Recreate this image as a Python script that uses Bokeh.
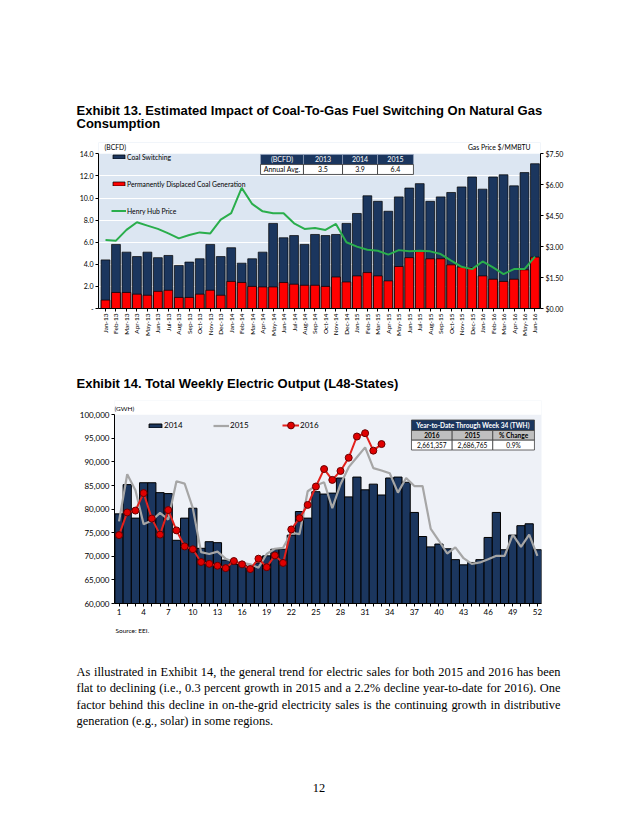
import math
from bokeh.plotting import figure
from bokeh.models import (Range1d, LinearAxis, FixedTicker, Legend, LegendItem, BoxAnnotation,
                          ColumnDataSource, Label, NumeralTickFormatter, CustomJSTickFormatter)
from bokeh.layouts import column
from bokeh.embed import file_html
from bokeh.resources import INLINE
from bokeh.core.properties import value

# ---------------- data: Exhibit 13 ----------------
months = ["Jan-13", "Feb-13", "Mar-13", "Apr-13", "May-13", "Jun-13", "Jul-13", "Aug-13",
          "Sep-13", "Oct-13", "Nov-13", "Dec-13", "Jan-14", "Feb-14", "Mar-14", "Apr-14",
          "May-14", "Jun-14", "Jul-14", "Aug-14", "Sep-14", "Oct-14", "Nov-14", "Dec-14",
          "Jan-15", "Feb-15", "Mar-15", "Apr-15", "May-15", "Jun-15", "Jul-15", "Aug-15",
          "Sep-15", "Oct-15", "Nov-15", "Dec-15", "Jan-16", "Feb-16", "Mar-16", "Apr-16",
          "May-16", "Jun-16"]
coal_switching_total = [4.4, 5.8, 5.1, 4.7, 5.1, 4.6, 4.8, 3.9, 4.2, 4.5, 5.8, 4.7,
                        5.5, 4.1, 4.5, 5.1, 7.7, 6.4, 6.6, 5.8, 6.7, 6.6, 6.7, 7.7,
                        8.6, 10.2, 9.7, 8.8, 10.1, 10.9, 11.3, 9.7, 10.1, 10.5, 11.0, 11.9,
                        10.8, 11.9, 12.1, 11.1, 12.3, 13.1]
displaced_coal = [0.76, 1.45, 1.45, 1.3, 1.2, 1.55, 1.65, 1.0, 1.0, 1.3, 1.65, 1.2,
                  2.45, 2.35, 2.0, 1.95, 1.95, 2.35, 2.2, 2.1, 2.1, 2.0, 2.85, 2.4,
                  2.95, 3.25, 2.95, 2.5, 3.8, 4.6, 5.15, 4.5, 4.5, 3.95, 3.75, 3.7,
                  2.95, 2.65, 2.45, 2.65, 3.5, 4.65]
henry_hub = [3.32, 3.29, 3.81, 4.18, 4.02, 3.86, 3.64, 3.40, 3.56, 3.69, 3.64, 4.31,
             4.62, 5.85, 5.07, 4.71, 4.62, 4.62, 4.13, 3.86, 3.90, 3.81, 4.10, 3.21,
             3.00, 2.85, 2.80, 2.61, 2.83, 2.77, 2.80, 2.77, 2.64, 2.32, 2.02, 1.91,
             2.28, 1.99, 1.67, 1.91, 1.91, 2.51]
table_years = ["2013", "2014", "2015"]
annual_avg = [3.5, 3.9, 6.4]

# ---------------- data: Exhibit 14 ----------------
weeks = list(range(1, 53))
output_2014 = [79000, 85200, 78100, 85600, 85600, 83500, 83300, 73400, 78100, 80200,
               71700, 73100, 72900, 69200, 68300, 68200, 67900, 68600, 70100, 71500,
               71500, 74500, 79500, 78100, 83700, 83200, 83400, 86600, 82600, 86800,
               84100, 85300, 83000, 86600, 86800, 85700, 79300, 74200, 72000, 72600,
               71600, 69300, 68200, 68700, 69300, 74000, 79300, 71400, 74500, 76500,
               76900, 71400]
output_2015 = [77400, 87400, 84000, 76800, 77600, 79200, 77800, 85900, 85400, 80200,
               70900, 70500, 71000, 69500, 68800, 68600, 68300, 67600, 70500, 71600,
               71800, 75000, 74700, 83800, 85000, 85700, 80200, 85300, 88900, 91000,
               93100, 88700, 88200, 87600, 83500, 86600, 84900, 84900, 75800, 73300,
               70600, 71900, 69600, 68400, 68700, 69400, 70100, 70100, 74600, 72000,
               74600, 70100]
output_2016 = [74500, 79300, 79700, 83400, 78000, 74600, 79800, 75500, 72100, 71500,
               68800, 68400, 68000, 67500, 69000, 68300, 67300, 69500, 67700, 70200,
               68600, 75700, 78100, 80900, 84800, 88500, 86200, 88100, 90900, 95400,
               96100, 92400, 93800]
ytd_title = "Year-to-Date Through Week 34 (TWH)"
ytd_headers = ["2016", "2015", "% Change"]
ytd_values = ["2,661,357", "2,686,765", "0.9%"]

title13 = ["Exhibit 13.  Estimated Impact of Coal-To-Gas Fuel Switching On Natural Gas",
           "Consumption"]
title14 = "Exhibit 14.  Total Weekly Electric Output (L48-States)"
source_note = "Source:  EEI."
paragraph = [
    "As illustrated in Exhibit 14, the general trend for electric sales for both 2015 and 2016 has been",
    "flat to declining (i.e., 0.3 percent growth in 2015 and a 2.2% decline year-to-date for 2016). One",
    "factor behind this decline in on-the-grid electricity sales is the continuing growth in distributive",
    "generation (e.g., solar) in some regions.",
]
page_number = "12"

# ---------------- styles ----------------
NAVY = "#1b365e"
RED = "#ff0000"
GREEN = "#2aae4c"
CF = "Lato"
TITLE_FONT = "Liberation Sans"
BODY_FONT = "Liberation Serif"
W = 630

# Times metrics (1/1000 em) used to justify the paragraph lines
TIMES = {" ": 250, "(": 333, ")": 333, ",": 250, ".": 250, "-": 333, "%": 833, ":": 278,
         "A": 722, "E": 611, "O": 722, "S": 556, "I": 333,
         "a": 444, "b": 500, "c": 444, "d": 500, "e": 444, "f": 333, "g": 500, "h": 500,
         "i": 278, "j": 278, "k": 500, "l": 278, "m": 778, "n": 500, "o": 500, "p": 500,
         "q": 500, "r": 333, "s": 389, "t": 278, "u": 500, "v": 500, "w": 722, "x": 500,
         "y": 500, "z": 444}


def text_width(s, size):
    return sum(TIMES.get(c, 500) for c in s) * size / 1000.0


def text_fig(top, height):
    f = figure(width=W, height=height, x_range=Range1d(0, W), y_range=Range1d(top + height, top),
               x_axis_location=None, y_axis_location=None, toolbar_location=None,
               output_backend="svg", min_border=0)
    f.grid.visible = False
    f.outline_line_color = None
    return f


def style_axis(ax, size):
    ax.axis_line_color = "black"
    ax.major_tick_line_color = "black"
    ax.major_tick_out = 3
    ax.major_tick_in = 0
    ax.minor_tick_line_color = None
    ax.major_label_text_font = CF
    ax.major_label_text_font_size = size
    ax.major_label_text_color = "black"
    ax.major_label_standoff = 2


# ---------------- title 13 ----------------
t1 = text_fig(0, 140)
t1.text(x=[76, 76], y=[109.5, 122.5], text=title13, text_font=value(TITLE_FONT),
        text_font_style="bold", text_font_size="13px", text_baseline="alphabetic", text_color="black")

# ---------------- Exhibit 13 chart ----------------
Y1_TOP = 14 * 166 / 154.7
p1 = figure(width=W, height=205, x_range=Range1d(-0.67, 41.53), y_range=Range1d(0, Y1_TOP),
            toolbar_location=None, output_backend="svg",
            min_border_left=98, min_border_right=90, min_border_top=2, min_border_bottom=37,
            background_fill_color="#dce6f2")
p1.outline_line_color = None
p1.extra_y_ranges = {"price": Range1d(0, Y1_TOP * 7.5 / 14)}
p1.add_layout(BoxAnnotation(bottom=14, fill_color="white", fill_alpha=1, line_alpha=0,
                            level="underlay"))
src1 = ColumnDataSource(dict(x=list(range(len(months))), total=coal_switching_total,
                             red=displaced_coal, hh=henry_hub))
r_navy = p1.vbar(x="x", top="total", width=0.84, fill_color=NAVY, line_color="black",
                 line_width=0.7, source=src1)
r_red = p1.vbar(x="x", top="red", width=0.84, fill_color=RED, line_color="black",
                line_width=0.7, source=src1)
r_green = p1.line(x="x", y="hh", y_range_name="price", line_color=GREEN, line_width=2, source=src1)

p1.xgrid.visible = False
p1.ygrid.ticker = FixedTicker(ticks=[2, 4, 6, 8, 10, 12])
p1.ygrid.grid_line_color = "white"
p1.ygrid.grid_line_width = 1

p1.xaxis.ticker = FixedTicker(ticks=list(range(len(months))))
p1.xaxis.major_label_overrides = {i: m for i, m in enumerate(months)}
p1.xaxis.major_label_orientation = math.pi / 2
style_axis(p1.xaxis[0], "6.5px")
p1.yaxis.ticker = FixedTicker(ticks=[0, 2, 4, 6, 8, 10, 12, 14])
p1.yaxis.formatter = CustomJSTickFormatter(code="return tick == 0 ? '-' : tick.toFixed(1)")
p1.yaxis.bounds = (0, 14)
style_axis(p1.yaxis[0], "7px")
ax_r = LinearAxis(y_range_name="price", ticker=FixedTicker(ticks=[0, 1.5, 3, 4.5, 6, 7.5]),
                  formatter=NumeralTickFormatter(format="$0.00"), bounds=(0, 7.5))
style_axis(ax_r, "7px")
p1.add_layout(ax_r, "right")

leg1 = Legend(items=[LegendItem(label="Coal Switching", renderers=[r_navy]),
                     LegendItem(label="Permanently Displaced Coal Generation", renderers=[r_red]),
                     LegendItem(label="Henry Hub Price", renderers=[r_green])],
              location=(13, 93), orientation="vertical", glyph_width=15, glyph_height=5,
              label_height=9, label_text_font=CF, label_text_font_size="6.8px",
              label_text_color="black", spacing=18, padding=0, margin=0,
              background_fill_alpha=0, border_line_color=None, label_standoff=1)
p1.add_layout(leg1)

p1.add_layout(Label(x=6, y=162, x_units="screen", y_units="screen", text="(BCFD)",
                    text_font=CF, text_font_size="6.8px", text_baseline="middle", text_color="black"))
p1.add_layout(Label(x=432, y=162, x_units="screen", y_units="screen", text="Gas Price $/MMBTU",
                    text_font=CF, text_font_size="6.8px", text_baseline="middle", text_align="right",
                    text_color="black"))

# annual average table (layout positions in chart units)
tx = [14.80, 18.90, 22.63, 25.97, 29.40]
ty = [13.94, 13.03, 12.13]
p1.quad(left=tx[:-1], right=tx[1:], top=ty[0], bottom=ty[1], fill_color=NAVY,
        line_color="#9aa8c0", line_width=0.6)
p1.quad(left=tx[:-1], right=tx[1:], top=ty[1], bottom=ty[2], fill_color="white",
        line_color="#303030", line_width=0.8)
cx = [(a + b) / 2 for a, b in zip(tx[:-1], tx[1:])]
p1.text(x=cx, y=[(ty[0] + ty[1]) / 2] * 4, text=["(BCFD)"] + table_years, text_color="white",
        text_font=value(CF), text_font_size="7px", text_align="center", text_baseline="middle")
p1.text(x=cx, y=[(ty[1] + ty[2]) / 2] * 4, text=["Annual Avg."] + [f"{v:.1f}" for v in annual_avg],
        text_color="black", text_font=value(CF), text_font_size="7px", text_align="center",
        text_baseline="middle")

# ---------------- title 14 ----------------
t2 = text_fig(345, 53)
t2.text(x=[76], y=[383], text=[title14], text_font=value(TITLE_FONT), text_font_style="bold",
        text_font_size="13px", text_baseline="alphabetic", text_color="black")

# ---------------- Exhibit 14 chart ----------------
Y2_TOP = 60000 + 203 / 188.7 * 40000
p2 = figure(width=W, height=224, x_range=Range1d(0.45, 52.5), y_range=Range1d(60000, Y2_TOP),
            toolbar_location=None, output_backend="svg",
            min_border_left=114, min_border_right=89, min_border_top=2, min_border_bottom=19,
            background_fill_color="#eef1f7")
p2.outline_line_color = None
p2.grid.visible = False
p2.add_layout(BoxAnnotation(bottom=100000, fill_color="white", fill_alpha=1, line_alpha=0,
                            level="underlay"))
src2 = ColumnDataSource(dict(week=weeks, v14=output_2014, v15=output_2015))
src3 = ColumnDataSource(dict(week=weeks[:len(output_2016)], v16=output_2016))
b14 = p2.vbar(x="week", top="v14", bottom=0, width=1.0, fill_color=NAVY, line_color="black",
              line_width=1, source=src2)
l15 = p2.line("week", "v15", line_color="#a6a6a6", line_width=2.2, source=src2)
l16 = p2.line("week", "v16", line_color="#e3211c", line_width=2, source=src3)
s16 = p2.scatter("week", "v16", size=7, fill_color="#e00000", line_color="#6a0000",
                 line_width=1, source=src3)

p2.xaxis.ticker = FixedTicker(ticks=weeks)
p2.xaxis.major_label_overrides = {w: (str(w) if (w - 1) % 3 == 0 else "") for w in weeks}
style_axis(p2.xaxis[0], "8px")
p2.yaxis.ticker = FixedTicker(ticks=list(range(60000, 100001, 5000)))
p2.yaxis.formatter = NumeralTickFormatter(format="0,0")
p2.yaxis.bounds = (60000, 100000)
style_axis(p2.yaxis[0], "8px")

legA = Legend(items=[LegendItem(label="2014", renderers=[b14]),
                     LegendItem(label="2015", renderers=[l15])],
              location=(33, 173), orientation="horizontal", glyph_width=16, glyph_height=5,
              label_height=10, label_text_font=CF, label_text_font_size="8px",
              label_text_color="black", spacing=29, padding=0, margin=0,
              background_fill_alpha=0, border_line_color=None, label_standoff=1)
legB = Legend(items=[LegendItem(label="2016", renderers=[l16, s16])],
              location=(168, 169), orientation="horizontal", glyph_width=17, glyph_height=18,
              label_height=10, label_text_font=CF, label_text_font_size="8px",
              label_text_color="black", padding=0, margin=0,
              background_fill_alpha=0, border_line_color=None, label_standoff=1)
p2.add_layout(legA)
p2.add_layout(legB)

p2.add_layout(Label(x=0, y=195, x_units="screen", y_units="screen", text="(GWH)",
                    text_font=CF, text_font_size="6.5px", text_baseline="middle", text_color="black"))

# year-to-date table (layout positions in chart units)
bx = [36.65, 41.61, 46.56, 51.64]
by = [98898, 96672, 94616, 92538]
p2.quad(left=[bx[0]], right=[bx[3]], top=[by[0]], bottom=[by[1]], fill_color=NAVY,
        line_color="#404040", line_width=0.8)
p2.quad(left=bx[:-1], right=bx[1:], top=by[1], bottom=by[2], fill_color="#bfbfbf",
        line_color="#404040", line_width=0.8)
p2.quad(left=bx[:-1], right=bx[1:], top=by[2], bottom=by[3], fill_color="white",
        line_color="#404040", line_width=0.8)
bcx = [(a + b) / 2 for a, b in zip(bx[:-1], bx[1:])]
p2.text(x=[(bx[0] + bx[3]) / 2], y=[(by[0] + by[1]) / 2], text=[ytd_title], text_color="white",
        text_font=value(CF), text_font_style="bold", text_font_size="6.6px",
        text_align="center", text_baseline="middle")
p2.text(x=bcx, y=[(by[1] + by[2]) / 2] * 3, text=ytd_headers, text_color="black",
        text_font=value(CF), text_font_style="bold", text_font_size="6.6px",
        text_align="center", text_baseline="middle")
p2.text(x=bcx, y=[(by[2] + by[3]) / 2] * 3, text=ytd_values, text_color="black",
        text_font=value(CF), text_font_size="6.6px", text_align="center", text_baseline="middle")

# ---------------- source, paragraph and page number ----------------
t3 = text_fig(622, 196)
t3.text(x=[115], y=[630], text=[source_note], text_font=value(CF), text_font_size="6.5px",
        text_baseline="middle", text_color="black")

BODY_SIZE = 12.4
LEFT, RIGHT = 76, 560
baselines = [671, 687.7, 704.3, 720.6]
wx, wy, wt = [], [], []
for i, line in enumerate(paragraph):
    words = line.split(" ")
    natural = sum(text_width(w, BODY_SIZE) for w in words)
    gap = text_width(" ", BODY_SIZE)
    if i < len(paragraph) - 1 and len(words) > 1:
        gap = max(gap, (RIGHT - LEFT - natural) / (len(words) - 1))
    x = LEFT
    for w in words:
        wx.append(x)
        wy.append(baselines[i])
        wt.append(w)
        x += text_width(w, BODY_SIZE) + gap
t3.text(x=wx, y=wy, text=wt, text_font=value(BODY_FONT), text_font_size=f"{BODY_SIZE}px",
        text_baseline="alphabetic", text_color="black")
t3.text(x=[318.5], y=[787], text=[page_number], text_font=value(BODY_FONT),
        text_font_size=f"{BODY_SIZE}px", text_baseline="alphabetic", text_align="center",
        text_color="black")

figs = [t1, p1, t2, p2, t3]
for f in figs:
    try:
        f.frame_align = False
    except Exception:
        pass

layout = column(*figs, spacing=0)
open("out.html", "w").write(file_html(layout, INLINE))
